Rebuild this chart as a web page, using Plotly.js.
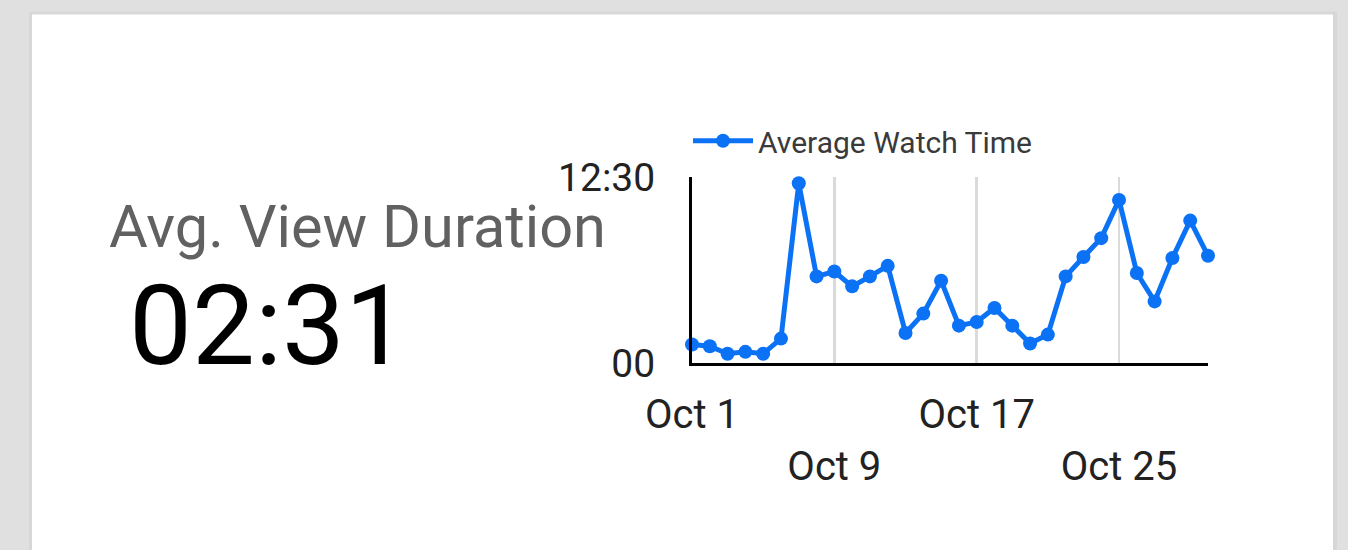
<!DOCTYPE html>
<html>
<head>
<meta charset="utf-8">
<script src="https://cdn.plot.ly/plotly-3.0.1.min.js"></script>
<style>
  html, body { margin: 0; padding: 0; background: #e0e0e0; }
  #chart { width: 1348px; height: 550px; }
</style>
</head>
<body>
<div id="chart"></div>
<script>
// ---- data ----
const dates = [
  '2023-10-01','2023-10-02','2023-10-03','2023-10-04','2023-10-05',
  '2023-10-06','2023-10-07','2023-10-08','2023-10-09','2023-10-10',
  '2023-10-11','2023-10-12','2023-10-13','2023-10-14','2023-10-15',
  '2023-10-16','2023-10-17','2023-10-18','2023-10-19','2023-10-20',
  '2023-10-21','2023-10-22','2023-10-23','2023-10-24','2023-10-25',
  '2023-10-26','2023-10-27','2023-10-28','2023-10-29','2023-10-30'
];
// average watch time, minutes
const watchMinutes = [
  1.24, 1.13, 0.62, 0.75, 0.62,
  1.64, 12.08, 5.82, 6.15, 5.15,
  5.82, 6.53, 2.02, 3.32, 5.53,
  2.51, 2.76, 3.70, 2.51, 1.31,
  1.91, 5.82, 7.12, 8.39, 10.96,
  6.05, 4.14, 7.05, 9.57, 7.21
];
const seriesName = 'Average Watch Time';
const xTickVals = ['2023-10-01','2023-10-09','2023-10-17','2023-10-25'];
const xTickText = ['Oct 1','<br>Oct 9','Oct 17','<br>Oct 25'];
const yTickVals = [0, 12.5];
const yTickText = ['00', '12:30'];
const metricLabel = 'Avg. View Duration';
const metricValue = '02:31';

// ---- layout geometry (pixels) ----
const W = 1348, H = 550;
const M = { l: 692, r: 140, t: 177, b: 186.5 };
const PW = W - M.l - M.r, PH = H - M.t - M.b;
const px = v => (v - M.l) / PW;        // pixel x -> paper x
const py = v => (H - M.b - v) / PH;    // pixel y -> paper y

const blue = '#0b72f5';

const trace = {
  type: 'scatter',
  mode: 'lines+markers',
  x: dates,
  y: watchMinutes,
  name: seriesName,
  line: { color: blue, width: 5 },
  marker: { color: blue, size: 14 },
  cliponaxis: false,
  showlegend: true
};

const layout = {
  width: W, height: H,
  margin: M,
  paper_bgcolor: '#e0e0e0',
  plot_bgcolor: 'rgba(0,0,0,0)',
  font: { family: 'Roboto, sans-serif', color: '#333' },
  showlegend: true,
  legend: {
    orientation: 'h',
    x: px(688), xanchor: 'left',
    y: py(140.7), yanchor: 'middle',
    itemwidth: 60,
    font: { size: 30, color: '#3a3a3a', family: 'Roboto, sans-serif' },
    bgcolor: 'rgba(0,0,0,0)'
  },
  xaxis: {
    type: 'date',
    range: ['2023-10-01', '2023-10-30'],
    tickmode: 'array',
    tickvals: xTickVals,
    ticktext: xTickText,
    ticks: '',
    ticklabelstandoff: 14,
    showgrid: true,
    gridcolor: '#dadada',
    gridwidth: 2.5,
    showline: true,
    linecolor: '#000',
    linewidth: 3,
    zeroline: false,
    tickfont: { size: 40, color: '#222' },
    fixedrange: true
  },
  yaxis: {
    range: [0, 12.5],
    tickmode: 'array',
    tickvals: yTickVals,
    ticktext: yTickText,
    ticks: '',
    ticklabelstandoff: 26,
    showgrid: true,
    gridcolor: '#dadada',
    gridwidth: 2.5,
    showline: true,
    linecolor: '#000',
    linewidth: 3,
    zeroline: false,
    tickfont: { size: 39, color: '#222' },
    fixedrange: true
  },
  shapes: [
    { type: 'rect', xref: 'paper', yref: 'paper', layer: 'below',
      x0: px(29), x1: px(1337), y0: py(11), y1: py(560),
      fillcolor: '#d7d7d7', line: { width: 0 } },
    { type: 'rect', xref: 'paper', yref: 'paper', layer: 'below',
      x0: px(32), x1: px(1333), y0: py(14), y1: py(560),
      fillcolor: '#ffffff', line: { width: 0 } }
  ],
  annotations: [
    { xref: 'paper', yref: 'paper', x: px(107), y: py(227),
      xanchor: 'left', yanchor: 'middle', showarrow: false,
      text: metricLabel,
      font: { family: 'Roboto, sans-serif', size: 59.5, color: '#616161' } },
    { xref: 'paper', yref: 'paper', x: px(127), y: py(326),
      xanchor: 'left', yanchor: 'middle', showarrow: false,
      text: metricValue,
      font: { family: 'Roboto, sans-serif', size: 112, color: '#000', weight: 400 } }
  ]
};

Plotly.newPlot('chart', [trace], layout, { displayModeBar: false, staticPlot: true });
</script>
</body>
</html>
